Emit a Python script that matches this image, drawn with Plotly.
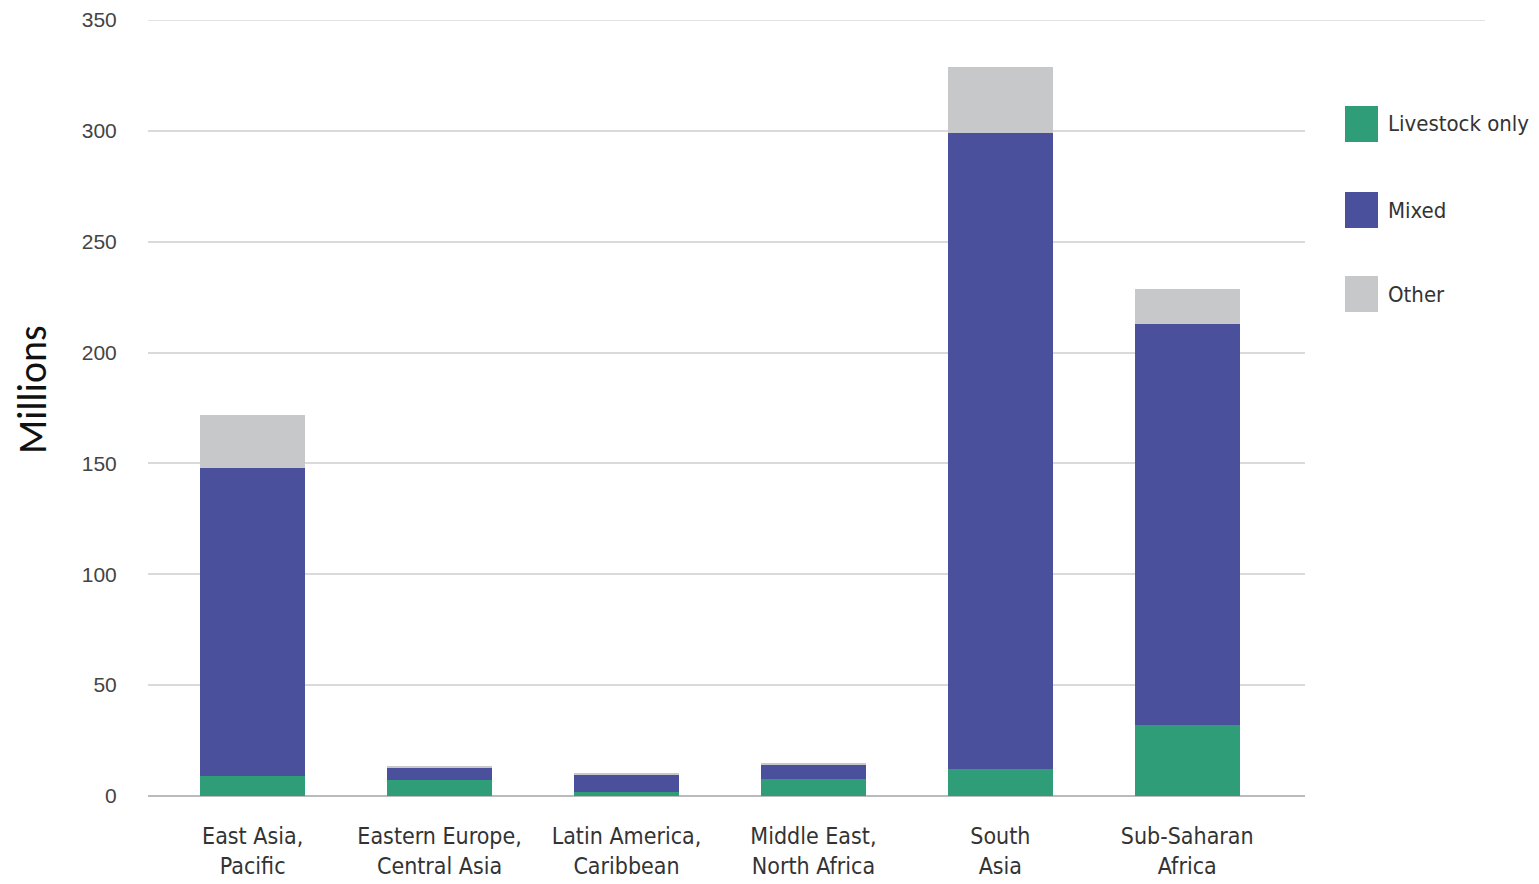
import plotly.graph_objects as go

categories = ["East Asia,<br>Pacific", "Eastern Europe,<br>Central Asia", "Latin America,<br>Caribbean",
              "Middle East,<br>North Africa", "South<br>Asia", "Sub-Saharan<br>Africa"]
livestock_only = [9, 7, 2, 7.5, 12, 32]
mixed = [139, 5.5, 7.5, 6.5, 287, 181]
other = [24, 1, 0.7, 1, 30, 15.5]

series_names = ["Livestock only", "Mixed", "Other"]
series_colors = ["#2F9E78", "#4B509C", "#C6C8CA"]
y_ticks = [0, 50, 100, 150, 200, 250, 300, 350]

W, H = 1539, 884
L, R, T, B = 148, 1305, 20, 796
xs = list(range(len(categories)))
NARROW = "DejaVu Sans Condensed, Liberation Sans Narrow, Arial Narrow, Liberation Sans, sans-serif"

fig = go.Figure()
for name, vals, col in zip(series_names, [livestock_only, mixed, other], series_colors):
    fig.add_trace(go.Bar(x=xs, y=vals, name=name, marker=dict(color=col, line=dict(width=0)),
                         width=0.56, showlegend=False))

# manual legend
leg_y = [124, 210, 294]
for name, col, yc in zip(series_names, series_colors, leg_y):
    fig.add_shape(type="rect", xref="paper", yref="paper",
                  x0=(1345 - L) / (R - L), x1=(1378 - L) / (R - L),
                  y0=(B - (yc + 18)) / (B - T), y1=(B - (yc - 18)) / (B - T),
                  fillcolor=col, line=dict(width=0))
    fig.add_annotation(xref="paper", yref="paper", x=(1386 - L) / (R - L), y=(B - yc) / (B - T),
                       text=name, showarrow=False, xanchor="left", yanchor="middle",
                       font=dict(family=NARROW, size=22, color="#333333"))

# top gridline extends under legend area
fig.add_shape(type="line", xref="paper", yref="y", x0=0, x1=(1485 - L) / (R - L), y0=350, y1=350,
              line=dict(color="#DADADA", width=1.5), layer="below")

fig.add_annotation(xref="paper", yref="paper", x=-(148 - 32) / (R - L), y=(B - 390) / (B - T), text="Millions",
                   textangle=-90, showarrow=False, xanchor="center", yanchor="middle",
                   font=dict(family="Carlito, Calibri, Liberation Sans, sans-serif", size=40, color="#111111"))

fig.update_layout(
    barmode="stack",
    width=W, height=H,
    margin=dict(l=L, r=W - R, t=T, b=H - B, pad=0, autoexpand=False),
    plot_bgcolor="white", paper_bgcolor="white",
    bargap=0.44,
    xaxis=dict(range=[-0.56, 5.63], tickmode="array", tickvals=xs, ticktext=categories,
               showgrid=False, zeroline=False, showline=False, ticks="", ticklabelstandoff=24,
               automargin=False,
               tickfont=dict(family=NARROW, size=23, color="#333333")),
    yaxis=dict(range=[0, 350], tickvals=y_ticks, showgrid=True, gridcolor="#DADADA", gridwidth=1.5,
               zeroline=True, zerolinecolor="#BBBBBB", zerolinewidth=2, showline=False,
               ticks="outside", ticklen=26, tickcolor="rgba(0,0,0,0)", automargin=False,
               tickfont=dict(family="Liberation Sans, Arial, sans-serif", size=21, color="#444444")),
)

fig.write_html("out.html")
